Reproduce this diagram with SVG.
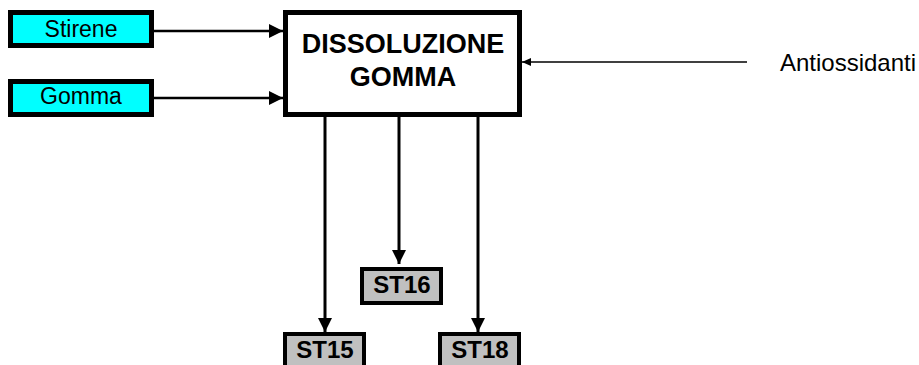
<svg xmlns="http://www.w3.org/2000/svg" width="919" height="365" viewBox="0 0 919 365">
<style>
text{font-family:"Liberation Sans",Arial,sans-serif;fill:#000;text-anchor:middle}
.in{fill:#00FFFF;stroke:#000;stroke-width:5}
.st{fill:#C0C0C0;stroke:#000;stroke-width:4}
.main{fill:#fff;stroke:#000;stroke-width:5}
.c{stroke:#000;fill:none}
.b{font-weight:bold}
</style>
<defs>
<marker id="ah" markerUnits="userSpaceOnUse" markerWidth="14" markerHeight="14" refX="14" refY="7" orient="auto" viewBox="0 0 14 14">
<path d="M0,0 L14,7 L0,14 Z" fill="#000"/>
</marker>
<marker id="as" markerUnits="userSpaceOnUse" markerWidth="9" markerHeight="8" refX="9" refY="4" orient="auto" viewBox="0 0 9 8">
<path d="M0,0 L9,4 L0,8 Z" fill="#000"/>
</marker>
</defs>
<g id="connectors">
<line class="c" x1="154" y1="31" x2="283" y2="31" stroke-width="2.5" marker-end="url(#ah)"/>
<line class="c" x1="154" y1="98" x2="283" y2="98" stroke-width="2.5" marker-end="url(#ah)"/>
<line class="c" x1="747" y1="62" x2="522" y2="62" stroke-width="1.5" marker-end="url(#as)"/>
<line class="c" x1="325" y1="117" x2="325" y2="332" stroke-width="3" marker-end="url(#ah)"/>
<line class="c" x1="399" y1="117" x2="399" y2="264" stroke-width="3" marker-end="url(#ah)"/>
<line class="c" x1="478" y1="117" x2="478" y2="332" stroke-width="3" marker-end="url(#ah)"/>
</g>
<g id="stirene">
<rect class="in" x="10.5" y="12.5" width="141" height="33"/>
<text x="81" y="37" font-size="23">Stirene</text>
</g>
<g id="gomma">
<rect class="in" x="10.5" y="81.5" width="141" height="33"/>
<text x="81" y="104" font-size="23">Gomma</text>
</g>
<g id="dissoluzione">
<rect class="main" x="285.5" y="12.5" width="234" height="102"/>
<text class="b" x="403" y="53" font-size="27">DISSOLUZIONE</text>
<text class="b" x="403" y="86" font-size="27">GOMMA</text>
</g>
<g id="antiossidanti">
<text x="848" y="71" font-size="24">Antiossidanti</text>
</g>
<g id="st16">
<rect class="st" x="362" y="269" width="79" height="34"/>
<text class="b" x="402" y="293" font-size="24">ST16</text>
</g>
<g id="st15">
<rect class="st" x="285" y="334" width="79" height="34"/>
<text class="b" x="325" y="358" font-size="24">ST15</text>
</g>
<g id="st18">
<rect class="st" x="440" y="334" width="79" height="34"/>
<text class="b" x="480" y="358" font-size="24">ST18</text>
</g>
</svg>
